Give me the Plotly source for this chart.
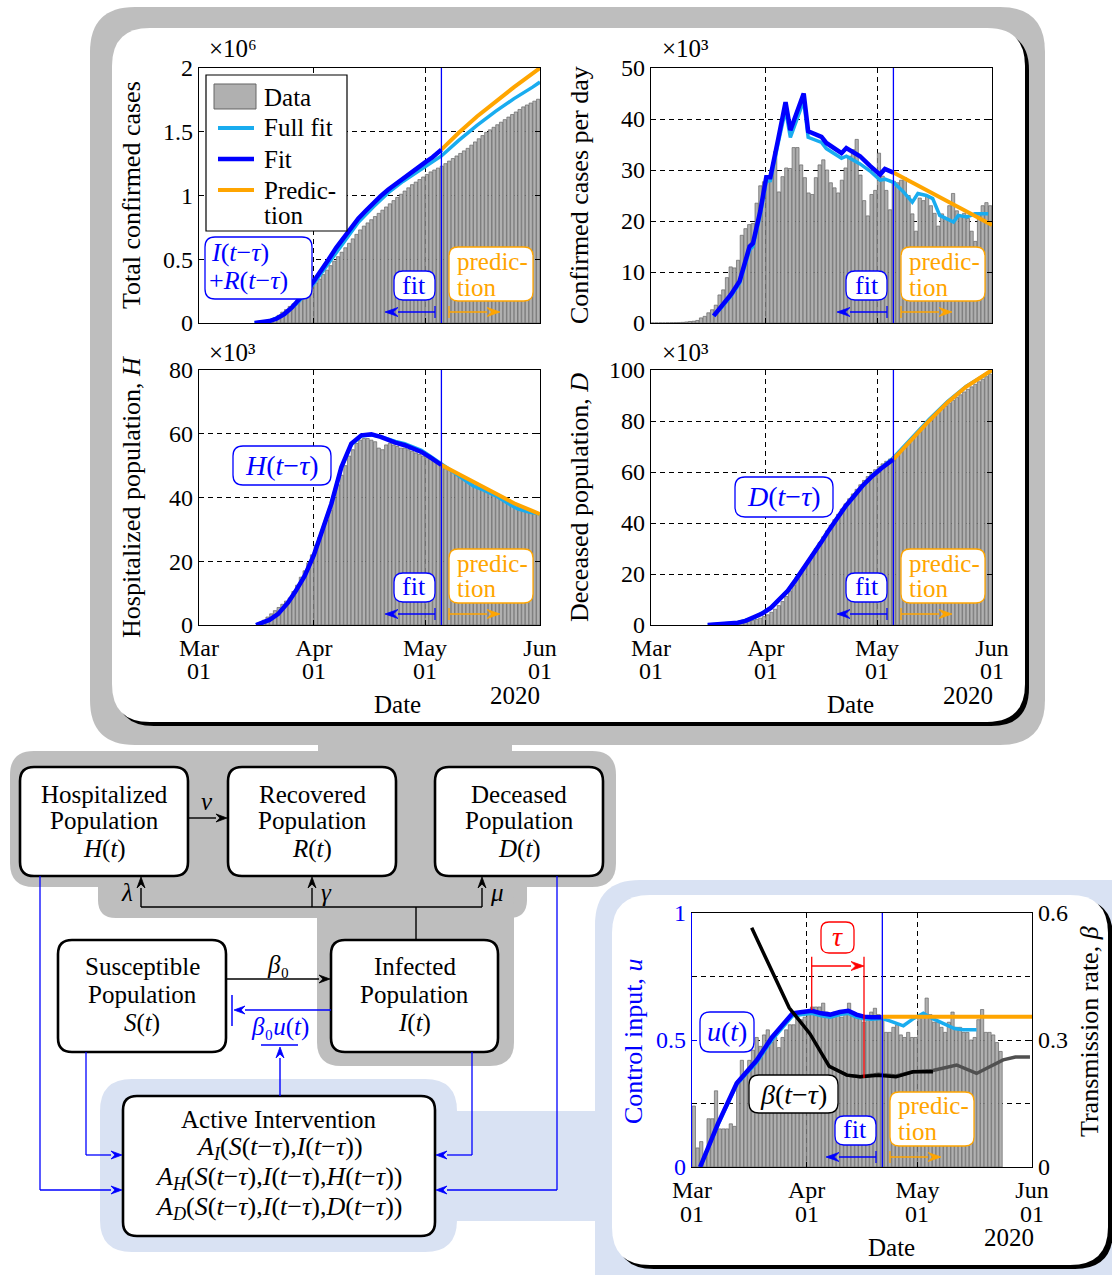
import math
import plotly.graph_objects as go
import pandas as pd

W, H = 1112, 1275
FONT = "Liberation Serif, DejaVu Serif, serif"
FS = 25
TFS = 24
DFS = 25
MFS = 28
BLUE = "#0000FF"
LBLUE = "#19ACEF"
ORANGE = "#FFA500"
FRAME_GRAY = "#BEBEBE"
FRAME_BLUE = "#D9E2F3"
BAR_FILL = "#B0B0B0"
BAR_EDGE = "#666666"
BETA_GRAY = "#505050"
BASE = pd.Timestamp("2020-03-01")

# ---------------- data ----------------
month_ticks = ["2020-03-01", "2020-04-01", "2020-05-01", "2020-06-01"]
month_names = ["Mar", "Apr", "May", "Jun"]
day_names = ["01", "01", "01", "01"]

# Total confirmed cases (x10^6)
total_start = "2020-03-18"
total_bars = [0.012, 0.018, 0.025, 0.040, 0.060, 0.085, 0.105, 0.130, 0.150, 0.175,
              0.200, 0.225, 0.255, 0.285, 0.315, 0.345, 0.380, 0.415, 0.450, 0.485,
              0.520, 0.555, 0.590, 0.625, 0.660, 0.695, 0.730, 0.760, 0.785, 0.810,
              0.835, 0.860, 0.885, 0.910, 0.935, 0.960, 0.985, 1.010, 1.035, 1.060,
              1.085, 1.105, 1.125, 1.145, 1.165, 1.185, 1.200, 1.215, 1.230, 1.250,
              1.270, 1.290, 1.310, 1.330, 1.350, 1.370, 1.395, 1.420, 1.445, 1.470,
              1.495, 1.515, 1.535, 1.555, 1.575, 1.595, 1.615, 1.635, 1.655, 1.675,
              1.695, 1.710, 1.725, 1.740, 1.755]
total_fit_day = [15, 17, 19, 21, 23, 25, 27, 29, 31, 33, 35, 37, 39, 41, 43, 45, 47, 49, 51, 53,
                 55, 57, 59, 61, 63, 65.4]
total_fit = [0.0, 0.005, 0.015, 0.035, 0.07, 0.12, 0.18, 0.25, 0.33, 0.41, 0.50, 0.59, 0.67, 0.75,
             0.82, 0.88, 0.94, 0.995, 1.045, 1.09, 1.135, 1.18, 1.22, 1.26, 1.30, 1.36]
total_full_day = [15, 19, 23, 27, 31, 35, 39, 43, 47, 51, 55, 59, 63, 65.4, 70, 75, 80, 85, 90, 92]
total_full = [0.0, 0.014, 0.065, 0.17, 0.31, 0.47, 0.64, 0.79, 0.91, 1.02, 1.11, 1.19, 1.27, 1.31,
              1.43, 1.55, 1.66, 1.76, 1.85, 1.89]
total_pred_day = [65.4, 70, 75, 80, 85, 92]
total_pred = [1.36, 1.49, 1.62, 1.74, 1.85, 2.0]

# Confirmed cases per day (x10^3)
daily_start = "2020-03-01"
daily_bars = [0.02, 0.02, 0.03, 0.03, 0.05, 0.06, 0.08, 0.10, 0.12, 0.20,
              0.30, 0.35, 0.50, 1.0, 1.3, 2.0, 2.6, 3.5, 5.5, 6.5,
              8.9, 11.0, 10.8, 12.3, 17.2, 18.5, 19.3, 19.5, 23.5, 26.9,
              27.7, 28.0, 30.0, 33.6, 25.7, 28.7, 30.4, 30.3, 34.4, 34.4,
              31.0, 28.5, 25.5, 25.2, 28.5, 31.0, 32.0, 30.0, 27.5, 26.5,
              25.5, 28.0, 30.4, 32.7, 34.0, 36.0, 29.0, 24.0, 21.0, 25.2,
              26.0, 33.3, 28.8, 26.0, 22.2, 27.8, 27.5, 28.0, 28.5, 25.0,
              21.4, 18.0, 24.5, 24.0, 25.0, 23.0, 21.5, 19.0, 21.4, 20.5,
              23.0, 25.4, 22.0, 21.0, 21.5, 20.5, 18.0, 16.0, 21.4, 23.0,
              23.6, 23.0]
daily_fit_day = [16.9, 19, 21.6, 23.9, 25, 26.6, 27.5, 29.5, 31.1, 32.2, 34.3, 36.3, 37.6, 39.4,
                 41.2, 42.4, 44, 46, 47.3, 49.5, 51.4, 52.7, 54.5, 56.4, 59.1, 61.8, 63.1, 65.4]
daily_fit = [1.4, 3.2, 5.6, 8.2, 11, 15, 15.6, 22, 28.6, 28.6, 36, 43.3, 37.8, 41.4,
             45, 37.6, 37.1, 36.5, 35.3, 34.2, 33.3, 34.3, 33.4, 32.7, 30.8, 29.1, 30.2, 29.5]
daily_full_day = [16.9, 19, 21.6, 23.9, 25, 26.6, 27.5, 29.5, 31.1, 32.2, 34.3, 36.3, 37.6, 39.4,
                  41.2, 42.4, 44, 46, 47.3, 49.5, 51.4, 52.7, 54.5, 56.4, 59.1, 61.8, 63.1, 65.4,
                  68, 70.5, 72, 74.3, 76, 77.9, 81.6, 82.9, 85.2, 87.4, 91]
daily_full = [1.4, 3.0, 5.3, 7.8, 10.5, 14.3, 15.0, 21.3, 27.8, 27.9, 35.2, 41.8, 36.4, 40.0,
              43.6, 36.4, 35.9, 35.4, 34.2, 33.1, 32.3, 32.7, 32.0, 31.2, 29.8, 28.0, 28.2, 27.6,
              25.8, 23.7, 25.4, 25.0, 24.4, 21.1, 19.8, 21.1, 20.8, 21.4, 21.4]
daily_pred_day = [65.4, 72, 78, 85, 92]
daily_pred = [29.5, 26.9, 24.6, 21.9, 19.2]

# Hospitalized population (x10^3)
hosp_start = "2020-03-18"
hosp_bars = [1.5, 2.5, 3.5, 4.5, 5.5, 6.5, 7.5, 8.5, 10.5, 12.5,
             15, 17, 19.5, 22, 25, 27.5, 30, 33, 36, 40,
             44, 47, 50, 53, 55, 57, 58, 58.5, 58.5, 58,
             57.5, 55.5, 55, 56.5, 57, 56.5, 56, 55.5, 55.5, 55,
             54.5, 54, 53.5, 53, 52.5, 52, 51.5, 51, 50, 49,
             48.5, 48, 47, 46.5, 46, 45.5, 45, 44.5, 44, 43.5,
             43, 42, 41.5, 41, 40.5, 40, 39, 38.5, 38, 37.5,
             37, 36.5, 36, 35.5, 35]
hosp_fit_day = [15.4, 17, 19, 21.3, 24, 26, 28.5, 31, 33, 35.7, 38.4, 41.1, 43.8, 46.5, 49, 51, 53,
                55.5, 58, 60, 62.5, 65.4]
hosp_fit = [0, 0.6, 1.6, 3.4, 7, 10.5, 15.4, 22, 28.6, 38, 49.5, 56.9, 59.5, 59.8, 59, 58, 57.2,
            56.4, 55.3, 54.3, 52.5, 50.2]
hosp_full_day = [15.4, 17, 19, 21.3, 24, 26, 28.5, 31, 33, 35.7, 38.4, 41.1, 43.8, 46.5, 49, 51, 53,
                 55.5, 58, 60, 62.5, 65.4, 68, 71, 74, 77, 80, 83, 86, 89, 92]
hosp_full = [0, 0.6, 1.6, 3.4, 7, 10.5, 15.4, 22, 28.6, 38, 49.3, 56.6, 59.3, 59.7, 59.1, 58.3, 57.6,
             56.9, 55.8, 54.8, 52.9, 50.5, 48.6, 46, 43.6, 42.2, 40.6, 38.4, 36.4, 35.4, 34.8]
hosp_pred_day = [65.4, 70, 75, 80, 85, 92]
hosp_pred = [50.2, 47.4, 44.4, 41.3, 38.2, 34.8]

# Deceased population (x10^3)
dead_start = "2020-03-18"
dead_bars = [0.1, 0.15, 0.2, 0.3, 0.4, 0.5, 0.7, 0.9, 1.1, 1.4,
             1.8, 2.2, 2.7, 3.3, 4.0, 5.0, 6.2, 7.6, 9.2, 11.2,
             13.4, 15.7, 18.0, 20.4, 22.8, 25.2, 27.6, 30.0, 32.3, 34.6,
             36.9, 39.1, 41.3, 43.4, 45.5, 47.5, 49.5, 51.4, 53.2, 55.0,
             56.7, 58.2, 59.6, 60.9, 62.1, 63.2, 64.2, 65.1, 66.0, 67.4,
             68.8, 70.2, 71.6, 73.0, 74.4, 76.5, 78.0, 79.4, 80.8, 82.1,
             83.4, 84.6, 85.8, 87.0, 88.1, 89.2, 90.3, 91.4, 92.4, 93.4,
             94.4, 95.4, 96.4, 97.4, 98.4]
dead_fit_day = [15.3, 19, 23.4, 25.5, 27.9, 30, 32.4, 34.5, 36.9, 39, 41.4, 43.5, 45.9, 48, 50.4,
                52.5, 54.9, 57, 59.4, 62, 65.4]
dead_fit = [0, 0.3, 0.9, 1.6, 2.9, 4.5, 6.8, 9.7, 13.4, 17.6, 22.6, 27, 32.4, 37.2, 42.3,
            46.6, 50.8, 54.5, 58, 61.3, 65]
dead_full_day = [15.3, 19, 23.4, 27.9, 32.4, 36.9, 41.4, 45.9, 50.4, 54.9, 59.4, 65.4, 70, 75, 80, 85, 92]
dead_full = [0, 0.3, 0.9, 2.9, 6.8, 13.4, 22.6, 32.4, 42.3, 50.8, 58.2, 65.6, 73.0, 80.6, 87.6, 93.6, 99.8]
dead_pred_day = [65.4, 70, 75, 80, 85, 92]
dead_pred = [65, 72.4, 80, 87.3, 93.4, 100]

# Control input u and transmission rate beta
ctrl_start = "2020-03-01"
ctrl_bars = [0.24, 0.075, 0.10, 0.04, 0.19, 0.19, 0.30, 0.15, 0.15, 0.15,
             0.17, 0.16, 0.34, 0.42, 0.37, 0.42, 0.46, 0.51, 0.475, 0.52,
             0.54, 0.49, 0.51, 0.47, 0.51, 0.54, 0.56, 0.56, 0.61, 0.58,
             0.59, 0.61, 0.63, 0.63, 0.63, 0.645, 0.61, 0.59, 0.61, 0.60,
             0.59, 0.61, 0.645, 0.61, 0.59, 0.60, 0.57, 0.59, 0.61, 0.625,
             0.60, 0.59, 0.53, 0.53, 0.55, 0.56, 0.52, 0.51, 0.53, 0.51,
             0.51, 0.59, 0.59, 0.665, 0.60, 0.57, 0.57, 0.55, 0.53, 0.57,
             0.61, 0.55, 0.55, 0.53, 0.53, 0.50, 0.51, 0.58, 0.62, 0.53,
             0.53, 0.52, 0.49, 0.455]
u_fit_day = [2.2, 7, 12.1, 17.5, 21.6, 24.5, 27.2, 29.8, 32.4, 35, 37.4, 40, 42.3, 44.5, 46.5, 48.5, 51.3]
u_fit = [0, 0.17, 0.33, 0.42, 0.51, 0.56, 0.605, 0.61, 0.615, 0.605, 0.60, 0.61, 0.615, 0.60, 0.592,
         0.59, 0.59]
u_full_day = [2.2, 7, 12.1, 17.5, 21.6, 24.5, 27.2, 29.8, 32.4, 35, 37.4, 40, 42.3, 44.5, 46.5, 48.5,
              51.3, 53.5, 57.2, 60, 62.6, 65, 68, 71, 73.4, 77]
u_full = [0, 0.165, 0.325, 0.412, 0.5, 0.55, 0.595, 0.6, 0.605, 0.595, 0.59, 0.6, 0.605, 0.59, 0.584,
          0.582, 0.585, 0.575, 0.556, 0.585, 0.605, 0.585, 0.566, 0.545, 0.54, 0.54]
u_pred_day = [51.3, 92]
u_pred = [0.592, 0.592]
beta_fit_day = [16.15, 26.3, 31.9, 37.1, 41.9, 45.5, 50.4, 55.2, 59.8, 65.2]
beta_fit = [0.565, 0.376, 0.315, 0.238, 0.217, 0.213, 0.217, 0.213, 0.225, 0.225]
beta_full_day = [37.1, 41.9, 45.5, 50.4, 55.2, 59.8, 65.2, 71.6, 77, 84.2, 87.5, 91.45]
beta_full = [0.238, 0.217, 0.213, 0.219, 0.215, 0.225, 0.228, 0.241, 0.221, 0.253, 0.26, 0.26]

fit_end_day = 65.4
ctrl_fit_end_day = 51.5


# ---------------- helpers ----------------
def X(px):
    return round(px / W, 5)


def Y(py):
    return round(1 - py / H, 5)


def on_days(days):
    return [BASE + pd.Timedelta(days=float(d)) for d in days]


def daily_dates(start, values):
    return pd.date_range(pd.Timestamp(start) + pd.Timedelta(hours=12), periods=len(values), freq="D")


shapes = []
annots = []


def rrect(x0, y0, x1, y1, r, fill, line=None, lw=0, layer="below"):
    p = (f"M{X(x0 + r)},{Y(y0)} L{X(x1 - r)},{Y(y0)} Q{X(x1)},{Y(y0)} {X(x1)},{Y(y0 + r)} "
         f"L{X(x1)},{Y(y1 - r)} Q{X(x1)},{Y(y1)} {X(x1 - r)},{Y(y1)} L{X(x0 + r)},{Y(y1)} "
         f"Q{X(x0)},{Y(y1)} {X(x0)},{Y(y1 - r)} L{X(x0)},{Y(y0 + r)} Q{X(x0)},{Y(y0)} {X(x0 + r)},{Y(y0)} Z")
    shapes.append(dict(type="path", path=p, xref="paper", yref="paper", fillcolor=fill,
                       line=dict(color=line if line else fill, width=lw), layer=layer))


def rect(x0, y0, x1, y1, fill, line=None, lw=0, layer="below"):
    shapes.append(dict(type="rect", x0=X(x0), x1=X(x1), y0=Y(y1), y1=Y(y0), xref="paper", yref="paper",
                       fillcolor=fill, line=dict(color=line if line else fill, width=lw), layer=layer))


def seg(x0, y0, x1, y1, color, width=1.3, layer="below"):
    shapes.append(dict(type="line", x0=X(x0), y0=Y(y0), x1=X(x1), y1=Y(y1), xref="paper", yref="paper",
                       line=dict(color=color, width=width), layer=layer))


def arrow(xh, yh, xt, yt, color="black", width=1.4, hl=11, hw=8, layer="below"):
    dx, dy = xh - xt, yh - yt
    n = math.hypot(dx, dy)
    ux, uy = dx / n, dy / n
    bx, by = xh - hl * ux, yh - hl * uy
    seg(xt, yt, bx, by, color, width, layer)
    px_, py_ = -uy, ux
    p = (f"M{X(xh)},{Y(yh)} L{X(bx + hw / 2 * px_)},{Y(by + hw / 2 * py_)} "
         f"L{X(bx + 0.35 * hl * ux)},{Y(by + 0.35 * hl * uy)} "
         f"L{X(bx - hw / 2 * px_)},{Y(by - hw / 2 * py_)} Z")
    shapes.append(dict(type="path", path=p, xref="paper", yref="paper", fillcolor=color,
                       line=dict(color=color, width=0.8), layer=layer))


def label(x, y, text, color="black", size=FS, xanchor="center", angle=0):
    annots.append(dict(x=X(x), y=Y(y), xref="paper", yref="paper", text=text, showarrow=False,
                       font=dict(family=FONT, size=size, color=color), xanchor=xanchor,
                       yanchor="middle", textangle=angle))


# ---------------- background frames ----------------
rrect(90, 7, 1045, 745, 45, FRAME_GRAY)
rect(318, 738, 512, 760, FRAME_GRAY)
rrect(10, 751, 616, 887, 24, FRAME_GRAY)
rrect(98, 860, 527, 918, 18, FRAME_GRAY)
rrect(317, 880, 514, 1066, 24, FRAME_GRAY)
rrect(100, 1079, 457, 1252, 32, FRAME_BLUE)
rect(440, 1111, 605, 1221, FRAME_BLUE)
rrect(595, 880, 1160, 1320, 45, FRAME_BLUE)
rrect(116, 32, 1029, 726, 38, "black")
rrect(112, 28, 1025, 722, 38, "white")
rrect(616, 899, 1113, 1269, 38, "black")
rrect(612, 895, 1108, 1265, 38, "white")

# ---------------- block diagram ----------------
for (bx0, by0, bx1, by1) in [(20, 767, 188, 876), (228, 767, 396, 876), (435, 767, 603, 876),
                             (58, 940, 226, 1052), (331, 940, 498, 1052), (123, 1096, 435, 1236)]:
    rrect(bx0, by0, bx1, by1, 14, "white", "black", 2.6)

seg(141, 907, 482, 907, "black", 1.4)
seg(416, 907, 416, 940, "black", 1.4)
seg(40, 876, 40, 1190, BLUE, 1.3)
seg(86, 1052, 86, 1155, BLUE, 1.3)
seg(472, 1052, 472, 1155, BLUE, 1.3)
seg(557, 876, 557, 1190, BLUE, 1.3)
seg(232, 995, 232, 1026, BLUE, 1.5)
seg(261, 1045, 298, 1045, BLUE, 1.5)

arrow(227, 818, 189, 818)
arrow(141, 877, 141, 907)
arrow(312, 877, 312, 907)
arrow(482, 877, 482, 907)
arrow(330, 979, 227, 979)
arrow(234, 1010, 331, 1010, BLUE, 1.4)
arrow(280, 1047, 280, 1096, BLUE, 1.4)
arrow(122, 1190, 40, 1190, BLUE, 1.3)
arrow(122, 1155, 86, 1155, BLUE, 1.3)
arrow(436, 1155, 472, 1155, BLUE, 1.3)
arrow(436, 1190, 557, 1190, BLUE, 1.3)

for cx, title in [(104, "Hospitalized"), (312, "Recovered"), (519, "Deceased")]:
    label(cx, 794, title, size=DFS)
    label(cx, 821, "Population", size=DFS)
label(104, 849, "<i>H</i>(<i>t</i>)", size=DFS)
label(312, 849, "<i>R</i>(<i>t</i>)", size=DFS)
label(519, 849, "<i>D</i>(<i>t</i>)", size=DFS)
label(142, 967, "Susceptible", size=DFS)
label(142, 995, "Population", size=DFS)
label(142, 1023, "<i>S</i>(<i>t</i>)", size=DFS)
label(415, 967, "Infected", size=DFS)
label(415, 995, "Population", size=DFS)
label(415, 1023, "<i>I</i>(<i>t</i>)", size=DFS)
label(279, 1119, "Active Intervention", size=DFS)
label(279, 1148, "<i>A<sub>I</sub></i>(<i>S</i>(<i>t</i>−<i>τ</i>),<i>I</i>(<i>t</i>−<i>τ</i>))", size=26)
label(279, 1178, "<i>A<sub>H</sub></i>(<i>S</i>(<i>t</i>−<i>τ</i>),<i>I</i>(<i>t</i>−<i>τ</i>),<i>H</i>(<i>t</i>−<i>τ</i>))", size=26)
label(279, 1208, "<i>A<sub>D</sub></i>(<i>S</i>(<i>t</i>−<i>τ</i>),<i>I</i>(<i>t</i>−<i>τ</i>),<i>D</i>(<i>t</i>−<i>τ</i>))", size=26)
label(207, 801, "<i>ν</i>", size=DFS)
label(127, 892, "<i>λ</i>", size=DFS)
label(327, 892, "<i>γ</i>", size=DFS)
label(497, 892, "<i>μ</i>", size=DFS)
label(278, 964, "<i>β</i>₀", size=DFS)
label(280, 1027, "<i>β</i>₀<i>u</i>(<i>t</i>)", BLUE, size=DFS)


# ---------------- plot overlays ----------------
def fit_pred_marks(dx, dy):
    rrect(394 + dx, 271 + dy, 435 + dx, 300 + dy, 9, "white", BLUE, 1.3, "above")
    rrect(449 + dx, 247 + dy, 533 + dx, 301 + dy, 9, "white", ORANGE, 1.3, "above")
    seg(435 + dx, 306 + dy, 435 + dx, 318 + dy, BLUE, 1.3, "above")
    seg(449 + dx, 306 + dy, 449 + dx, 318 + dy, ORANGE, 1.3, "above")
    arrow(385 + dx, 312 + dy, 435 + dx, 312 + dy, BLUE, 1.4, 13, 9, "above")
    arrow(500 + dx, 312 + dy, 449 + dx, 312 + dy, ORANGE, 1.4, 13, 9, "above")
    label(414.5 + dx, 285 + dy, "fit", BLUE, size=26)
    label(455 + dx, 261 + dy, "predic-", ORANGE, xanchor="left")
    label(455 + dx, 287 + dy, "tion", ORANGE, xanchor="left")


fit_pred_marks(0, 0)
fit_pred_marks(452, 0)
fit_pred_marks(0, 302)
fit_pred_marks(452, 302)
fit_pred_marks(441, 845)

# label boxes
rrect(205, 237, 312, 299, 10, "white", BLUE, 1.3, "above")
label(209, 253, "<i>I</i>(<i>t</i>−<i>τ</i>)", BLUE, size=26, xanchor="left")
label(207, 281, "+<i>R</i>(<i>t</i>−<i>τ</i>)", BLUE, size=26, xanchor="left")
rrect(233, 446, 331, 485, 10, "white", BLUE, 1.3, "above")
label(282, 465, "<i>H</i>(<i>t</i>−<i>τ</i>)", BLUE, size=MFS)
rrect(735, 477, 833, 517, 10, "white", BLUE, 1.3, "above")
label(784, 497, "<i>D</i>(<i>t</i>−<i>τ</i>)", BLUE, size=MFS)
rrect(700, 1012, 754, 1052, 10, "white", BLUE, 1.3, "above")
label(727, 1031, "<i>u</i>(<i>t</i>)", BLUE, size=MFS)
rrect(749, 1075, 838, 1113, 10, "white", "black", 1.3, "above")
label(793.5, 1094, "<i>β</i>(<i>t</i>−<i>τ</i>)", size=MFS)
rrect(821, 922, 854, 953, 8, "white", "red", 1.3, "above")
label(837.5, 937, "<i>τ</i>", "red", size=MFS)
seg(811.7, 956.7, 811.7, 1010, "red", 1.3, "above")
seg(864, 956.7, 864, 1078, "red", 1.3, "above")
arrow(864, 966, 811.7, 966, "red", 1.4, 13, 9, "above")

# legend
rect(206, 75, 347, 231, "white", "black", 1.2, "above")
rect(214, 84, 256, 109, BAR_FILL, BAR_EDGE, 1, "above")
seg(218, 128, 254, 128, LBLUE, 4, "above")
seg(218, 159, 254, 159, BLUE, 4.5, "above")
seg(218, 190, 254, 190, ORANGE, 4, "above")
label(262, 97, "Data", xanchor="left")
label(262, 128, "Full fit", xanchor="left")
label(262, 159, "Fit", xanchor="left")
label(262, 190, "Predic-", xanchor="left")
label(262, 216, "tion", xanchor="left")

# axis titles and multipliers
label(132, 195, "Total confirmed cases", size=26, angle=-90)
label(580, 195, "Confirmed cases per day", size=26, angle=-90)
label(132, 497, "Hospitalized population, <i>H</i>", size=26, angle=-90)
label(580, 497, "Deceased population, <i>D</i>", size=26, angle=-90)
label(634, 1041, "Control input, <i>u</i>", BLUE, size=26, angle=-90)
label(1090, 1032, "Transmission rate, <i>β</i>", size=26, angle=-90)
label(233, 48, "×10⁶")
label(685, 48, "×10³")
label(233, 352, "×10³")
label(685, 352, "×10³")
label(398, 704, "Date")
label(515, 695, "2020")
label(850, 704, "Date")
label(968, 695, "2020")
label(891, 1247, "Date")
label(1009, 1238, "2020")

# second line of date tick labels
for xa, ypix in [("x3", 671), ("x4", 671), ("x5", 1214)]:
    for t, dn in zip(month_ticks, day_names):
        annots.append(dict(x=t, y=Y(ypix), xref=xa, yref="paper", text=dn, showarrow=False,
                           font=dict(family=FONT, size=TFS, color="black"), xanchor="center",
                           yanchor="middle"))

# ---------------- traces ----------------
fig = go.Figure()

panels = [
    ("x", "y", total_start, total_bars, total_full_day, total_full, total_fit_day, total_fit,
     total_pred_day, total_pred),
    ("x2", "y2", daily_start, daily_bars, daily_full_day, daily_full, daily_fit_day, daily_fit,
     daily_pred_day, daily_pred),
    ("x3", "y3", hosp_start, hosp_bars, hosp_full_day, hosp_full, hosp_fit_day, hosp_fit,
     hosp_pred_day, hosp_pred),
    ("x4", "y4", dead_start, dead_bars, dead_full_day, dead_full, dead_fit_day, dead_fit,
     dead_pred_day, dead_pred),
]

for xa, ya, bstart, bars, fd, fv, td, tv, pd_, pv in panels:
    fig.add_trace(go.Bar(x=daily_dates(bstart, bars), y=bars, xaxis=xa, yaxis=ya,
                         marker=dict(color=BAR_FILL, line=dict(color=BAR_EDGE, width=0.7))))
    fig.add_trace(go.Scatter(x=on_days(fd), y=fv, xaxis=xa, yaxis=ya, mode="lines",
                             line=dict(color=LBLUE, width=3.5)))
    fig.add_trace(go.Scatter(x=on_days(td), y=tv, xaxis=xa, yaxis=ya, mode="lines",
                             line=dict(color=BLUE, width=4.5)))
    fig.add_trace(go.Scatter(x=on_days(pd_), y=pv, xaxis=xa, yaxis=ya, mode="lines",
                             line=dict(color=ORANGE, width=4)))
    shapes.append(dict(type="line", xref=xa, yref=ya + " domain", x0=on_days([fit_end_day])[0],
                       x1=on_days([fit_end_day])[0], y0=0, y1=1, line=dict(color=BLUE, width=1.3),
                       layer="above"))

fig.add_trace(go.Bar(x=daily_dates(ctrl_start, ctrl_bars), y=ctrl_bars, xaxis="x5", yaxis="y5",
                     marker=dict(color=BAR_FILL, line=dict(color=BAR_EDGE, width=0.7))))
fig.add_trace(go.Scatter(x=on_days(beta_full_day), y=beta_full, xaxis="x5", yaxis="y6", mode="lines",
                         line=dict(color=BETA_GRAY, width=3.5)))
fig.add_trace(go.Scatter(x=on_days(beta_fit_day), y=beta_fit, xaxis="x5", yaxis="y6", mode="lines",
                         line=dict(color="black", width=3.5)))
fig.add_trace(go.Scatter(x=on_days(u_full_day), y=u_full, xaxis="x5", yaxis="y5", mode="lines",
                         line=dict(color=LBLUE, width=3.5)))
fig.add_trace(go.Scatter(x=on_days(u_fit_day), y=u_fit, xaxis="x5", yaxis="y5", mode="lines",
                         line=dict(color=BLUE, width=4.5)))
fig.add_trace(go.Scatter(x=on_days(u_pred_day), y=u_pred, xaxis="x5", yaxis="y5", mode="lines",
                         line=dict(color=ORANGE, width=4)))
shapes.append(dict(type="line", xref="x5", yref="y5 domain", x0=on_days([ctrl_fit_end_day])[0],
                   x1=on_days([ctrl_fit_end_day])[0], y0=0, y1=1, line=dict(color=BLUE, width=1.3),
                   layer="above"))

GRID = dict(showgrid=True, gridcolor="black", gridwidth=1, griddash="5px,4px")


# ---------------- axes ----------------
def xdef(x0, x1, anchor, labels):
    return dict(domain=[x0 / W, x1 / W], anchor=anchor, type="date", automargin=False,
                range=[month_ticks[0], month_ticks[-1]], tickvals=month_ticks, ticktext=month_names,
                showticklabels=labels, ticks="inside", ticklen=5, tickcolor="black",
                ticklabelstandoff=1,
                showline=True, linecolor="black", linewidth=1.3, mirror="ticks", zeroline=False,
                tickfont=dict(family=FONT, size=TFS, color="black"), **GRID)


def ydef(top, bottom, anchor, rng, vals, texts, color="black", linecolor="black", mirror="ticks"):
    return dict(domain=[1 - bottom / H, 1 - top / H], anchor=anchor, range=rng, tickvals=vals,
                ticktext=texts, ticks="inside", ticklen=5, tickcolor=linecolor, showline=True,
                linecolor=linecolor, linewidth=1.3, mirror=mirror, zeroline=False, automargin=False,
                tickfont=dict(family=FONT, size=TFS, color=color), **GRID)


ctrl_y = ydef(913, 1167, "x5", [0, 1], [0, 0.5, 1], ["0", "0.5", "1"],
              color=BLUE, linecolor=BLUE, mirror=False)
ctrl_y["minor"] = dict(tickvals=[0.25, 0.75], ticks="", **GRID)

layout_axes = dict(
    xaxis=xdef(199, 540, "y", False),
    yaxis=ydef(68, 323, "x", [0, 2], [0, 0.5, 1, 1.5, 2], ["0", "0.5", "1", "1.5", "2"]),
    xaxis2=xdef(651, 992, "y2", False),
    yaxis2=ydef(68, 323, "x2", [0, 50], [0, 10, 20, 30, 40, 50], ["0", "10", "20", "30", "40", "50"]),
    xaxis3=xdef(199, 540, "y3", True),
    yaxis3=ydef(370, 625, "x3", [0, 80], [0, 20, 40, 60, 80], ["0", "20", "40", "60", "80"]),
    xaxis4=xdef(651, 992, "y4", True),
    yaxis4=ydef(370, 625, "x4", [0, 100], [0, 20, 40, 60, 80, 100], ["0", "20", "40", "60", "80", "100"]),
    xaxis5=xdef(692, 1032, "y5", True),
    yaxis5=ctrl_y,
    yaxis6=dict(overlaying="y5", side="right", anchor="x5", range=[0, 0.6], tickvals=[0, 0.3, 0.6],
                ticktext=["0", "0.3", "0.6"], ticks="inside", ticklen=5, tickcolor="black",
                showline=True, linecolor="black", linewidth=1.3, showgrid=False, zeroline=False,
                automargin=False, tickfont=dict(family=FONT, size=TFS, color="black")),
)

fig.update_layout(
    width=W, height=H, autosize=False, margin=dict(l=0, r=0, t=0, b=0, pad=0, autoexpand=False),
    paper_bgcolor="white", plot_bgcolor="white", showlegend=False, bargap=0.12,
    font=dict(family=FONT, size=FS, color="black"),
    shapes=shapes, annotations=annots, hovermode=False,
    **layout_axes,
)

fig.write_html(
    "out.html",
    config={"displayModeBar": False, "staticPlot": True},
    post_script="document.body.style.margin='0px';document.body.style.padding='0px';"
                "document.body.style.overflow='hidden';",
)
